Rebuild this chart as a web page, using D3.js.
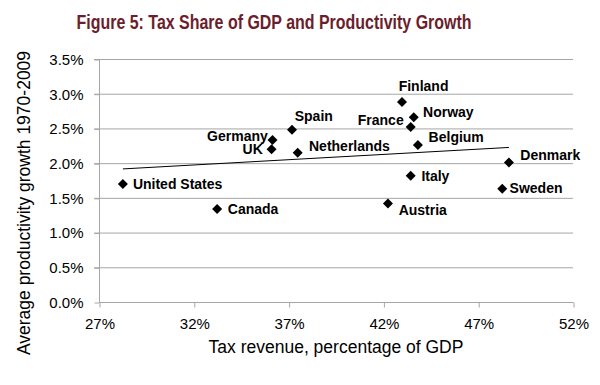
<!DOCTYPE html>
<html>
<head>
<meta charset="utf-8">
<script src="https://cdn.jsdelivr.net/npm/d3@7"></script>
<style>
  body { margin: 0; background: #fff; }
  svg text { font-family: "Liberation Sans", Arial, sans-serif; }
</style>
</head>
<body>
<div id="chart"></div>
<script>
const countries = ['United States', 'Canada', 'Germany', 'UK', 'Spain', 'Netherlands', 'Finland',
  'Norway', 'France', 'Belgium', 'Italy', 'Austria', 'Denmark', 'Sweden'];
const taxShare = [28.26, 33.23, 36.15, 36.1, 37.18, 37.48, 42.98, 43.6, 43.44, 43.82, 43.44, 42.24, 48.62, 48.27];
const growth = [1.70, 1.34, 2.335, 2.20, 2.48, 2.15, 2.88, 2.66, 2.52, 2.26, 1.82, 1.42, 2.01, 1.63];
const xTicks = [27, 32, 37, 42, 47, 52];
const yTicks = [0, 0.5, 1, 1.5, 2, 2.5, 3, 3.5];

// label placement: [dx, dy, anchor]
const labelPlace = [
  [10, 5, 'start'], [10.7, 5, 'start'], [-4.7, 1, 'end'], [-8.7, 5, 'end'],
  [2.7, -9, 'start'], [11.3, -1.6, 'start'], [-3.3, -10.6, 'start'], [9.3, 0, 'start'],
  [-7, -2.3, 'end'], [10.7, -2.6, 'start'], [10.7, 5.7, 'start'], [10.7, 11.7, 'start'],
  [11.4, -2.7, 'start'], [7.3, 3.7, 'start']
];

const width = 600;
const height = 385;
const margin = { top: 59, right: 27, bottom: 83, left: 99 };

const svg = d3.select('#chart')
  .append('svg')
  .attr('width', width)
  .attr('height', height);

const x = d3.scaleLinear().domain([27, 52]).range([margin.left, width - margin.right]);
const y = d3.scaleLinear().domain([0, 3.5]).range([height - margin.bottom, margin.top]);

// title
svg.append('text')
  .attr('x', 274)
  .attr('y', 29)
  .attr('text-anchor', 'middle')
  .attr('fill', '#6b1e2c')
  .attr('textLength', 395)
  .attr('lengthAdjust', 'spacingAndGlyphs')
  .style('font-weight', 'bold')
  .style('font-size', '21px')
  .text('Figure 5: Tax Share of GDP and Productivity Growth');

// gridlines
svg.append('g')
  .selectAll('line')
  .data(yTicks.filter(d => d > 0))
  .join('line')
  .attr('x1', margin.left - 5)
  .attr('x2', width - margin.right)
  .attr('y1', d => y(d) + 0.5)
  .attr('y2', d => y(d) + 0.5)
  .attr('stroke', '#a6a6a6')
  .attr('stroke-width', 1);

// y axis
const yAxis = svg.append('g')
  .attr('transform', `translate(${margin.left + 0.5},0.5)`)
  .call(d3.axisLeft(y).tickValues(yTicks).tickFormat(d => d.toFixed(1) + '%').tickSize(5).tickPadding(11));
yAxis.select('.domain').attr('stroke', '#a6a6a6').attr('d', `M0,${y(0)}V${y(3.5)}`);
yAxis.selectAll('.tick line').attr('stroke', '#a6a6a6');
yAxis.selectAll('.tick text').attr('fill', '#000').style('font-size', '15px');

// x axis
const xAxis = svg.append('g')
  .attr('transform', `translate(0.5,${y(0) + 0.5})`)
  .call(d3.axisBottom(x).tickValues(xTicks).tickFormat(d => d + '%').tickSize(5).tickPadding(11));
xAxis.select('.domain').attr('stroke', '#a6a6a6').attr('d', `M${x(27)},0H${x(52)}`);
xAxis.selectAll('.tick line').attr('stroke', '#a6a6a6');
xAxis.selectAll('.tick text').attr('fill', '#000').style('font-size', '15px');

// axis titles
svg.append('text')
  .attr('x', 336)
  .attr('y', 353)
  .attr('text-anchor', 'middle')
  .style('font-size', '17.5px')
  .text('Tax revenue, percentage of GDP');

svg.append('text')
  .attr('transform', 'translate(30,203) rotate(-90)')
  .attr('text-anchor', 'middle')
  .style('font-size', '17.5px')
  .text('Average productivity growth 1970-2009');

// linear trendline (least squares)
const mx = d3.mean(taxShare);
const my = d3.mean(growth);
const slope = d3.sum(taxShare, (v, i) => (v - mx) * (growth[i] - my)) / d3.sum(taxShare, v => (v - mx) ** 2);
const intercept = my - slope * mx;
const [xMin, xMax] = d3.extent(taxShare);
svg.append('line')
  .attr('x1', x(xMin))
  .attr('y1', y(intercept + slope * xMin))
  .attr('x2', x(xMax))
  .attr('y2', y(intercept + slope * xMax))
  .attr('stroke', '#000')
  .attr('stroke-width', 1);

// points
const points = countries.map((c, i) => ({ name: c, tx: taxShare[i], g: growth[i], lp: labelPlace[i] }));
svg.append('g')
  .selectAll('path')
  .data(points)
  .join('path')
  .attr('d', d3.symbol(d3.symbolSquare, 50))
  .attr('transform', d => `translate(${x(d.tx)},${y(d.g)}) rotate(45)`)
  .attr('fill', '#000');

svg.append('g')
  .selectAll('text')
  .data(points)
  .join('text')
  .attr('x', d => x(d.tx) + d.lp[0])
  .attr('y', d => y(d.g) + d.lp[1])
  .attr('text-anchor', d => d.lp[2])
  .style('font-size', '14px')
  .style('font-weight', 'bold')
  .text(d => d.name);
</script>
</body>
</html>
